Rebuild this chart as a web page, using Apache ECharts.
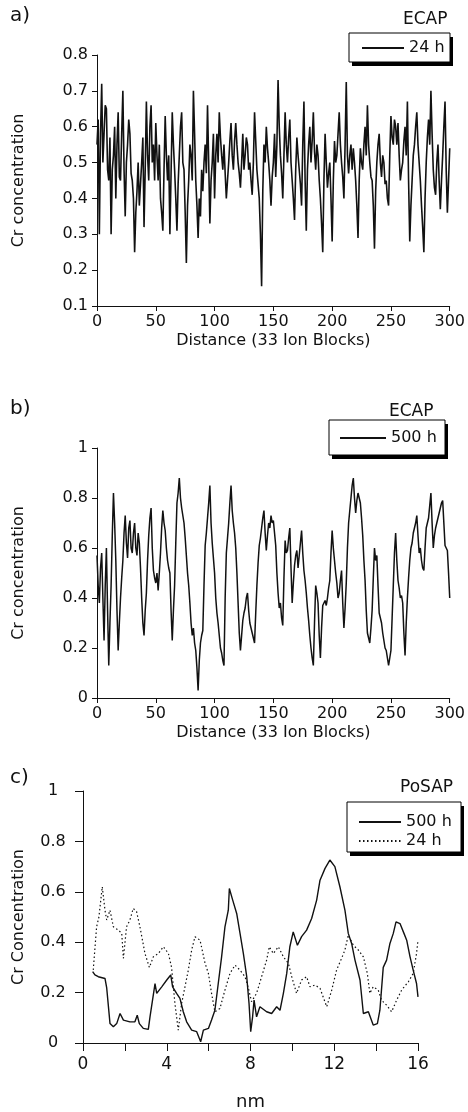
<!DOCTYPE html>
<html>
<head>
<meta charset="utf-8">
<script src="https://cdn.jsdelivr.net/npm/echarts@6/dist/echarts.min.js"></script>
<style>
  html, body { margin: 0; padding: 0; background: #fff; }
  #chart { width: 468px; height: 1112px; }
</style>
</head>
<body>
<div id="chart"></div>
<script>
// a) ECAP 24 h, Cr concentration per block (0..300)
var ecap24 = [
  0.55, 0.62, 0.30, 0.58, 0.72, 0.50, 0.58, 0.66, 0.65, 0.48,
  0.45, 0.57, 0.30, 0.48, 0.52, 0.60, 0.40, 0.55, 0.64, 0.46,
  0.45, 0.58, 0.70, 0.48, 0.35, 0.50, 0.55, 0.62, 0.58, 0.47,
  0.45, 0.40, 0.25, 0.36, 0.42, 0.50, 0.38, 0.44, 0.50, 0.57,
  0.32, 0.48, 0.67, 0.52, 0.45, 0.60, 0.66, 0.50, 0.55, 0.45,
  0.61, 0.52, 0.45, 0.55, 0.40, 0.36, 0.31, 0.48, 0.63, 0.52,
  0.45, 0.52, 0.30, 0.47, 0.64, 0.55, 0.48, 0.40, 0.31, 0.44,
  0.52, 0.60, 0.64, 0.50, 0.48, 0.36, 0.22, 0.38, 0.45, 0.55,
  0.52, 0.45, 0.70, 0.58, 0.45, 0.38, 0.29, 0.40, 0.35, 0.48,
  0.42, 0.50, 0.55, 0.47, 0.66, 0.50, 0.33, 0.45, 0.50, 0.58,
  0.40, 0.52, 0.58, 0.50, 0.64, 0.57, 0.52, 0.48, 0.55, 0.47,
  0.40, 0.45, 0.50, 0.56, 0.61, 0.52, 0.48, 0.56, 0.61, 0.55,
  0.50, 0.47, 0.43, 0.50, 0.58, 0.48, 0.52, 0.57, 0.55, 0.48,
  0.50, 0.45, 0.41, 0.50, 0.64, 0.56, 0.48, 0.44, 0.40, 0.30,
  0.155, 0.42, 0.55, 0.50, 0.60, 0.54, 0.50, 0.45, 0.38, 0.46,
  0.50, 0.58, 0.46, 0.55, 0.73, 0.60, 0.52, 0.47, 0.40, 0.52,
  0.64, 0.55, 0.50, 0.57, 0.62, 0.50, 0.45, 0.40, 0.34, 0.48,
  0.57, 0.52, 0.48, 0.44, 0.38, 0.55, 0.67, 0.45, 0.31, 0.48,
  0.55, 0.60, 0.50, 0.56, 0.64, 0.53, 0.48, 0.55, 0.52, 0.45,
  0.40, 0.33, 0.25, 0.45, 0.58, 0.50, 0.43, 0.47, 0.50, 0.40,
  0.28, 0.45, 0.56, 0.50, 0.52, 0.58, 0.64, 0.55, 0.50, 0.46,
  0.40, 0.55, 0.725, 0.52, 0.47, 0.52, 0.55, 0.48, 0.54, 0.50,
  0.45, 0.38, 0.29, 0.45, 0.54, 0.50, 0.48, 0.55, 0.60, 0.52,
  0.66, 0.55, 0.50, 0.46, 0.45, 0.38, 0.26, 0.42, 0.50, 0.55,
  0.58, 0.50, 0.46, 0.52, 0.50, 0.44, 0.45, 0.40, 0.38, 0.52,
  0.63, 0.57, 0.55, 0.62, 0.60, 0.55, 0.61, 0.52, 0.45, 0.48,
  0.50, 0.56, 0.60, 0.52, 0.67, 0.45, 0.28, 0.38, 0.45, 0.52,
  0.55, 0.60, 0.64, 0.55, 0.50, 0.45, 0.38, 0.32, 0.25, 0.40,
  0.50, 0.57, 0.62, 0.55, 0.70, 0.58, 0.48, 0.43, 0.41, 0.50,
  0.55, 0.45, 0.37, 0.45, 0.52, 0.60, 0.67, 0.48, 0.36, 0.45,
  0.54
];

// b) ECAP 500 h, per block (0..300)
var ecap500 = [
  0.57, 0.45, 0.38, 0.52, 0.58, 0.40, 0.23, 0.45, 0.60, 0.35,
  0.13, 0.30, 0.45, 0.65, 0.82, 0.70, 0.55, 0.35, 0.19, 0.30,
  0.40, 0.48, 0.55, 0.66, 0.73, 0.62, 0.56, 0.68, 0.71, 0.60,
  0.58, 0.66, 0.70, 0.60, 0.57, 0.66, 0.62, 0.52, 0.40, 0.30,
  0.25, 0.35, 0.42, 0.55, 0.65, 0.72, 0.76, 0.60, 0.51, 0.48,
  0.46, 0.50, 0.43, 0.50, 0.58, 0.68, 0.75, 0.70, 0.67, 0.60,
  0.55, 0.52, 0.50, 0.35, 0.23, 0.35, 0.45, 0.62, 0.78, 0.82,
  0.88, 0.80, 0.76, 0.73, 0.70, 0.64, 0.57, 0.50, 0.45, 0.38,
  0.30, 0.25, 0.28, 0.22, 0.19, 0.12, 0.03, 0.15, 0.22, 0.25,
  0.27, 0.45, 0.61, 0.66, 0.72, 0.78, 0.85, 0.70, 0.62, 0.56,
  0.50, 0.40, 0.34, 0.30, 0.25, 0.20, 0.18, 0.15, 0.13, 0.40,
  0.58, 0.64, 0.70, 0.78, 0.85, 0.75, 0.70, 0.66, 0.60, 0.50,
  0.38, 0.26, 0.19, 0.25, 0.31, 0.34, 0.36, 0.40, 0.42, 0.35,
  0.30, 0.28, 0.26, 0.24, 0.22, 0.34, 0.45, 0.54, 0.61, 0.64,
  0.68, 0.72, 0.75, 0.66, 0.59, 0.65, 0.70, 0.68, 0.73, 0.70,
  0.71, 0.66, 0.61, 0.50, 0.42, 0.36, 0.38, 0.32, 0.29, 0.48,
  0.63, 0.58, 0.59, 0.64, 0.68, 0.52, 0.38, 0.46, 0.53, 0.57,
  0.59, 0.52, 0.57, 0.62, 0.67, 0.58, 0.51, 0.47, 0.42, 0.36,
  0.31, 0.25, 0.20, 0.16, 0.13, 0.30, 0.45, 0.42, 0.38, 0.25,
  0.16, 0.28, 0.37, 0.38, 0.39, 0.37, 0.40, 0.44, 0.47, 0.58,
  0.67, 0.60, 0.55, 0.50, 0.46, 0.40, 0.42, 0.47, 0.51, 0.38,
  0.28, 0.36, 0.46, 0.60, 0.70, 0.75, 0.80, 0.85, 0.88, 0.80,
  0.74, 0.79, 0.82, 0.80, 0.78, 0.72, 0.65, 0.55, 0.47, 0.35,
  0.26, 0.24, 0.22, 0.28, 0.35, 0.48, 0.60, 0.55, 0.57, 0.45,
  0.34, 0.32, 0.30, 0.26, 0.23, 0.20, 0.19, 0.16, 0.13, 0.16,
  0.19, 0.32, 0.45, 0.58, 0.66, 0.55, 0.47, 0.44, 0.40, 0.41,
  0.38, 0.26, 0.17, 0.30, 0.40, 0.48, 0.55, 0.60, 0.62, 0.66,
  0.68, 0.70, 0.73, 0.65, 0.58, 0.60, 0.55, 0.52, 0.51, 0.60,
  0.68, 0.70, 0.72, 0.77, 0.82, 0.70, 0.60, 0.65, 0.68, 0.70,
  0.72, 0.74, 0.76, 0.78, 0.79, 0.70, 0.61, 0.60, 0.59, 0.50,
  0.40
];

// c) PoSAP, position in nm and Cr concentration
var nm500 = [0.46, 0.57, 0.73, 1.05, 1.13, 1.29, 1.45, 1.61, 1.77, 1.93, 2.24, 2.48, 2.59, 2.69, 2.88, 3.12, 3.20, 3.44, 3.52, 3.76,
  4.00, 4.19, 4.28, 4.47, 4.63, 4.79, 4.95, 5.19, 5.43, 5.62, 5.75, 5.99, 6.14, 6.30, 6.46, 6.62, 6.78, 6.94, 6.99, 7.15,
  7.34, 7.50, 7.66, 7.82, 7.93, 8.01, 8.10, 8.17, 8.29, 8.45, 8.77, 9.01, 9.25, 9.41, 9.57, 9.73, 9.88, 10.04, 10.24, 10.44,
  10.68, 10.92, 11.16, 11.32, 11.56, 11.79, 12.03, 12.27, 12.51, 12.67, 12.83, 12.99, 13.23, 13.39, 13.63, 13.86, 14.06, 14.18, 14.34, 14.50,
  14.66, 14.82, 14.95, 15.14, 15.33, 15.46, 15.62, 15.77, 15.93, 16.00];
var cr500 = [0.283, 0.27, 0.263, 0.256, 0.22, 0.077, 0.064, 0.077, 0.117, 0.091, 0.084, 0.084, 0.11, 0.077, 0.058, 0.054, 0.104, 0.236, 0.197, 0.223,
  0.25, 0.27, 0.223, 0.197, 0.177, 0.124, 0.084, 0.051, 0.045, 0.005, 0.051, 0.058, 0.091, 0.13, 0.236, 0.342, 0.461, 0.527, 0.613, 0.567,
  0.514, 0.435, 0.355, 0.263, 0.157, 0.045, 0.104, 0.17, 0.104, 0.144, 0.124, 0.117, 0.144, 0.13, 0.197, 0.276, 0.382, 0.441, 0.388, 0.422,
  0.448, 0.494, 0.567, 0.646, 0.693, 0.726, 0.70, 0.62, 0.527, 0.435, 0.395, 0.329, 0.25, 0.117, 0.124, 0.071, 0.077, 0.13, 0.30, 0.329,
  0.395, 0.435, 0.481, 0.474, 0.435, 0.408, 0.342, 0.289, 0.236, 0.183];
var nm24 = [0.49, 0.65, 0.76, 0.92, 1.05, 1.13, 1.29, 1.45, 1.69, 1.85, 1.93, 2.08, 2.24, 2.40, 2.56, 2.72, 2.96, 3.17, 3.36, 3.60,
  3.84, 4.08, 4.23, 4.39, 4.55, 4.71, 4.87, 5.03, 5.19, 5.35, 5.59, 5.83, 5.99, 6.14, 6.30, 6.54, 6.78, 7.02, 7.26, 7.50,
  7.74, 7.90, 8.05, 8.29, 8.53, 8.77, 8.90, 9.09, 9.33, 9.57, 9.81, 9.97, 10.20, 10.44, 10.68, 10.84, 11.08, 11.32, 11.64, 11.88,
  12.11, 12.35, 12.51, 12.67, 12.91, 13.15, 13.39, 13.58, 13.70, 13.86, 14.10, 14.26, 14.50, 14.74, 14.98, 15.22, 15.54, 15.77, 15.93, 16.00];
var cr24 = [0.29, 0.461, 0.50, 0.62, 0.527, 0.488, 0.527, 0.461, 0.448, 0.435, 0.336, 0.461, 0.488, 0.534, 0.521, 0.461, 0.355, 0.30, 0.342, 0.355,
  0.382, 0.355, 0.30, 0.157, 0.051, 0.157, 0.223, 0.289, 0.369, 0.422, 0.408, 0.316, 0.276, 0.197, 0.124, 0.137, 0.21, 0.276, 0.309, 0.289,
  0.263, 0.217, 0.164, 0.197, 0.263, 0.329, 0.382, 0.355, 0.382, 0.342, 0.316, 0.263, 0.197, 0.25, 0.263, 0.223, 0.23, 0.217, 0.144, 0.21,
  0.289, 0.336, 0.369, 0.428, 0.388, 0.369, 0.342, 0.276, 0.197, 0.223, 0.21, 0.17, 0.15, 0.124, 0.17, 0.21, 0.243, 0.276, 0.355, 0.408];

var names = { a24: '24 h', b500: '500 h', c500: '500 h', c24: '24 h' };

var font = 'DejaVu Sans';
var ink = '#111';

function xy(xs, ys) {
  return ys.map(function (v, i) { return [xs[i], v]; });
}
function perBlock(vals) {
  return vals.map(function (v, i) { return [i, v]; });
}

function axisBase(extra) {
  var o = {
    type: 'value',
    axisLine: { show: true, lineStyle: { color: ink, width: 1 } },
    axisTick: { show: true, length: 5, lineStyle: { color: ink } },
    splitLine: { show: false },
    axisLabel: { fontFamily: font, fontSize: 16, color: ink },
    nameTextStyle: { fontFamily: font, fontSize: 16, color: ink }
  };
  for (var k in extra) o[k] = extra[k];
  return o;
}

// legend frame: white box, black border, heavy drop shadow bottom/right
function frame(x, y, w, h) {
  return [
    { type: 'rect', z: 0, shape: { x: x + 3, y: y + 4, width: w, height: h }, style: { fill: '#000' } },
    { type: 'rect', z: 1, shape: { x: x, y: y, width: w, height: h }, style: { fill: '#fff', stroke: '#000', lineWidth: 1 } }
  ];
}

function legendBox(extra) {
  var o = {
    orient: 'vertical',
    formatter: function (n) { return names[n]; },
    itemWidth: 42,
    itemHeight: 12,
    itemGap: 4,
    padding: 0,
    z: 10,
    itemStyle: { opacity: 0 },
    textStyle: { fontFamily: font, fontSize: 16, color: ink },
    selectedMode: false
  };
  for (var k in extra) o[k] = extra[k];
  return o;
}

var titleStyle = { fontFamily: font, fontSize: 17, fontWeight: 'normal', color: ink };
var tagStyle = { fontFamily: font, fontSize: 20, fontWeight: 'normal', color: ink };

var option = {
  backgroundColor: '#fff',
  animation: false,
  graphic: [].concat(frame(349, 33, 101, 29), frame(329, 420, 116, 35), frame(347, 802, 114, 50)),
  title: [
    { text: 'a)', left: 10, top: 6, padding: 0, textStyle: tagStyle },
    { text: 'ECAP', left: 403, top: 11, padding: 0, textStyle: titleStyle },
    { text: 'b)', left: 10, top: 399, padding: 0, textStyle: tagStyle },
    { text: 'ECAP', left: 389, top: 403, padding: 0, textStyle: titleStyle },
    { text: 'c)', left: 10, top: 768, padding: 0, textStyle: tagStyle },
    { text: 'PoSAP', left: 400, top: 779, padding: 0, textStyle: titleStyle }
  ],
  legend: [
    legendBox({ left: 361, top: 40, data: ['a24'] }),
    legendBox({ left: 339, top: 430, data: ['b500'], itemWidth: 46 }),
    legendBox({ left: 358, top: 814, data: ['c500', 'c24'], itemGap: 3 })
  ],
  grid: [
    { left: 97, top: 55, width: 354, height: 251 },
    { left: 97, top: 448, width: 354, height: 250 },
    { left: 83, top: 791, width: 335, height: 252 }
  ],
  xAxis: [
    axisBase({ gridIndex: 0, min: 0, max: 300, interval: 50,
      name: 'Distance (33 Ion Blocks)', nameLocation: 'middle', nameGap: 27 }),
    axisBase({ gridIndex: 1, min: 0, max: 300, interval: 50,
      name: 'Distance (33 Ion Blocks)', nameLocation: 'middle', nameGap: 27 }),
    axisBase({ gridIndex: 2, min: 0, max: 16, interval: 2, name: 'nm', nameLocation: 'middle', nameGap: 50,
      axisTick: { show: true, length: 8, lineStyle: { color: ink } },
      axisLabel: { fontFamily: font, fontSize: 17, color: ink, margin: 13,
        formatter: function (v) { return v % 4 === 0 ? String(v) : ''; } },
      nameTextStyle: { fontFamily: font, fontSize: 18, color: ink } })
  ],
  yAxis: [
    axisBase({ gridIndex: 0, min: 0.1, max: 0.8, interval: 0.1,
      name: 'Cr concentration', nameLocation: 'middle', nameGap: 70,
      axisLabel: { fontFamily: font, fontSize: 16, color: ink, margin: 9,
        formatter: function (v) { return v.toFixed(1); } } }),
    axisBase({ gridIndex: 1, min: 0, max: 1, interval: 0.2,
      name: 'Cr concentration', nameLocation: 'middle', nameGap: 70,
      axisLabel: { fontFamily: font, fontSize: 16, color: ink, margin: 9,
        formatter: function (v) { return String(+v.toFixed(1)); } } }),
    axisBase({ gridIndex: 2, min: 0, max: 1, interval: 0.2,
      name: 'Cr Concentration', nameLocation: 'middle', nameGap: 56,
      axisTick: { show: true, length: 8, lineStyle: { color: ink } },
      axisLabel: { fontFamily: font, fontSize: 16, color: ink, margin: 30, align: 'center',
        formatter: function (v) { return String(+v.toFixed(1)); } } })
  ],
  series: [
    { name: 'a24', type: 'line', xAxisIndex: 0, yAxisIndex: 0, symbol: 'none',
      lineStyle: { color: ink, width: 1.6 }, itemStyle: { color: ink }, data: perBlock(ecap24) },
    { name: 'b500', type: 'line', xAxisIndex: 1, yAxisIndex: 1, symbol: 'none',
      lineStyle: { color: ink, width: 1.5 }, itemStyle: { color: ink }, data: perBlock(ecap500) },
    { name: 'c500', type: 'line', xAxisIndex: 2, yAxisIndex: 2, symbol: 'none',
      lineStyle: { color: ink, width: 1.4 }, itemStyle: { color: ink }, data: xy(nm500, cr500) },
    { name: 'c24', type: 'line', xAxisIndex: 2, yAxisIndex: 2, symbol: 'none',
      lineStyle: { color: ink, width: 1.2, type: [1.5, 2.5] }, itemStyle: { color: ink }, data: xy(nm24, cr24) }
  ]
};

var myChart = echarts.init(document.getElementById('chart'));
myChart.setOption(option);
</script>
</body>
</html>
